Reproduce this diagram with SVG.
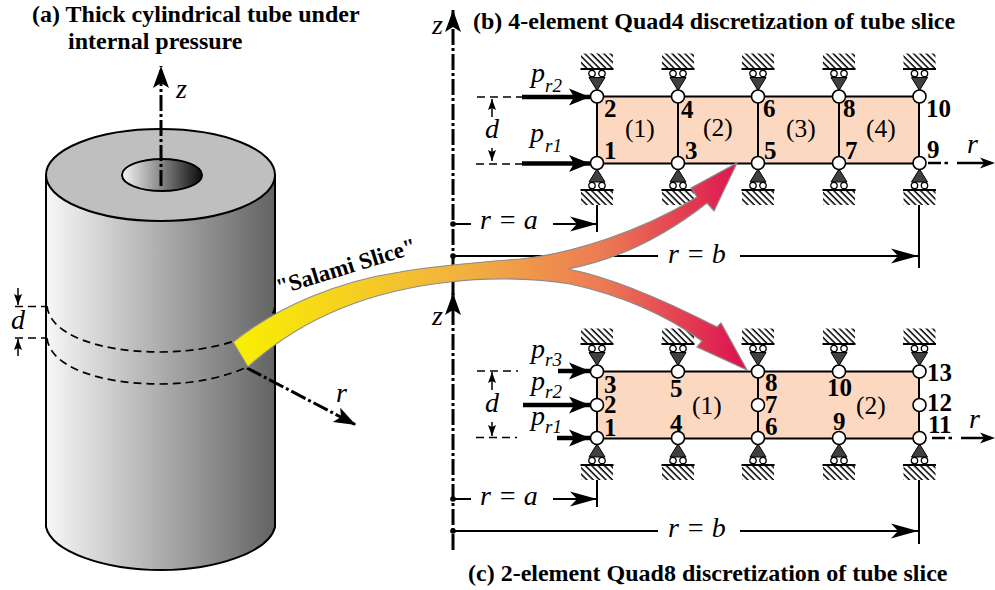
<svg xmlns="http://www.w3.org/2000/svg" width="995" height="590" viewBox="0 0 995 590">
<style>
text{font-family:"Liberation Serif","Times New Roman",serif;fill:#000}
.t{font-weight:bold;font-size:24px}
.n{font-weight:bold;font-size:25px}
.e{font-size:25.500px}
.i{font-style:italic;font-size:28px}
.s{font-style:italic;font-size:19px}
.l{stroke:#000;fill:none;stroke-width:2}
.sl{stroke:#000;fill:none;stroke-width:1.500}
.dd{stroke:#000;fill:none;stroke-width:1.700;stroke-dasharray:8 5}
.da{stroke:#000;fill:none;stroke-width:3;stroke-dasharray:16 3 3 3}
.ra{stroke:#000;fill:none;stroke-width:2.500;stroke-dasharray:13 3.500 3.500 9 30}
.p{stroke:#000;fill:none;stroke-width:4.500}
.nd{fill:#fff;stroke:#000;stroke-width:1.600}
.m{fill:#fcd8c0;stroke:#000;stroke-width:2}
</style>
<defs>
<linearGradient id="cyl" x1="46" x2="275" y1="0" y2="0" gradientUnits="userSpaceOnUse"><stop offset="0" stop-color="#f7f7f7"/><stop offset="1" stop-color="#636363"/></linearGradient>
<linearGradient id="hole" x1="122" x2="202" y1="0" y2="0" gradientUnits="userSpaceOnUse"><stop offset="0" stop-color="#f4f4f4"/><stop offset=".45" stop-color="#909090"/><stop offset="1" stop-color="#0c0c0c"/></linearGradient>
<linearGradient id="rib" x1="233" x2="747" y1="0" y2="0" gradientUnits="userSpaceOnUse"><stop offset="0" stop-color="#f8f000"/><stop offset=".45" stop-color="#f2b040"/><stop offset=".72" stop-color="#ec7a55"/><stop offset="1" stop-color="#dc0f50"/></linearGradient>
<pattern id="h" width="4.500" height="4.500" patternUnits="userSpaceOnUse" patternTransform="rotate(45)"><rect width="4.500" height="4.500" fill="#fff"/><rect width="4.500" height="1.500" fill="#000"/></pattern>
<marker id="a" markerWidth="22" markerHeight="18" refX="21" refY="9" orient="auto" markerUnits="userSpaceOnUse"><path d="M0 .5L21 9L0 17.500L5 9Z" fill="#000"/></marker>
<marker id="e" markerWidth="28" markerHeight="16" refX="27" refY="8" orient="auto" markerUnits="userSpaceOnUse"><path d="M0 .5L27 8L0 15.500L7 8Z" fill="#000"/></marker>
<marker id="r" markerWidth="16" markerHeight="12" refX="15" refY="6" orient="auto" markerUnits="userSpaceOnUse"><path d="M0 .5L15 6L0 11.500L4 6Z" fill="#000"/></marker>
<marker id="b" markerWidth="12" markerHeight="10" refX="11" refY="5" orient="auto" markerUnits="userSpaceOnUse"><path d="M0 1L11 5L0 9L2 5Z" fill="#000"/></marker>
<marker id="c" markerWidth="24" markerHeight="20" refX="22" refY="10" orient="auto" markerUnits="userSpaceOnUse"><path d="M0 2L22 10L0 18L5 10Z" fill="#000"/></marker>
<g id="st"><rect x="-16" y="-43" width="32" height="15" fill="url(#h)"/><path d="M-16.500 -27.500H16.500" class="l"/><circle cx="-5" cy="-23" r="3.200" fill="#fff" stroke="#000" stroke-width="1.300"/><circle cx="5" cy="-23" r="3.200" fill="#fff" stroke="#000" stroke-width="1.300"/><path d="M-8 -19H8L0 -6Z" fill="#404040" stroke="#000"/></g>
<g id="sb"><rect x="-16" y="27" width="32" height="15" fill="url(#h)"/><path d="M-16.500 27H16.500" class="l"/><circle cx="-5" cy="22.500" r="3.200" fill="#fff" stroke="#000" stroke-width="1.300"/><circle cx="5" cy="22.500" r="3.200" fill="#fff" stroke="#000" stroke-width="1.300"/><path d="M-8 19H8L0 6Z" fill="#404040" stroke="#000"/></g>
</defs>

<g id="tube">
<path d="M46 175V527C52 552 105 570 161 570C216 570 269 552 275 527V175Z" fill="url(#cyl)" stroke="#000" stroke-width="2"/>
<ellipse cx="160.500" cy="175" rx="114.500" ry="46" fill="#bfbfbf" stroke="#000" stroke-width="2"/>
<ellipse cx="162" cy="175" rx="40" ry="16" fill="url(#hole)" stroke="#000" stroke-width="2"/>
<path d="M47 306C50 335 100 352 160 352C195 352 225 345 240 339M275 306C274 312 272 316 268 321" class="dd"/>
<path d="M47 338C50 367 100 384 160 384C195 384 225 377 247 367" class="dd"/>
</g>

<g id="connectors">
<path d="M161 186V66" class="da" marker-end="url(#c)"/>
<path d="M15 306.500H46M15 338H46" class="dd"/>
<path d="M18 288V305" class="sl" marker-end="url(#b)"/>
<path d="M18 356V339" class="sl" marker-end="url(#b)"/>
<path d="M247 368L356 425" class="da" marker-end="url(#c)"/>

<path d="M453 295V10" class="da" marker-end="url(#c)"/>
<circle cx="453" cy="224" r="2.800"/><circle cx="453" cy="256" r="2.800"/>
<path d="M453 224H471" class="l"/><path d="M553 224H597" class="l" marker-end="url(#e)"/>
<path d="M453 256H658" class="l"/><path d="M740 256H918" class="l" marker-end="url(#e)"/>
<path d="M597 190V232M919 190V268" class="l"/>
<path d="M477 97H522M476 164H522" class="dd"/>
<path d="M522 97H590" class="p" marker-end="url(#a)"/>
<path d="M522 163.500H590" class="p" marker-end="url(#a)"/>
<path d="M492 117V99" class="sl" marker-end="url(#b)"/><path d="M492 148V161" class="sl" marker-end="url(#b)"/>
<path d="M928 163H995" class="ra" marker-end="url(#r)"/>

<path d="M453 550V293" class="da" marker-end="url(#c)"/>
<circle cx="453" cy="499" r="2.800"/><circle cx="453" cy="531" r="2.800"/>
<path d="M453 499H471" class="l"/><path d="M553 499H597" class="l" marker-end="url(#e)"/>
<path d="M453 531H658" class="l"/><path d="M740 531H918" class="l" marker-end="url(#e)"/>
<path d="M597 465V507M919 465V544" class="l"/>
<path d="M477 371H518M476 437.500H517" class="dd"/>
<path d="M558 371H590" class="p" marker-end="url(#a)"/>
<path d="M523 405H590" class="p" marker-end="url(#a)"/>
<path d="M557 438H590" class="p" marker-end="url(#a)"/>
<path d="M492 390V372" class="sl" marker-end="url(#b)"/><path d="M492 422V436" class="sl" marker-end="url(#b)"/>
<path d="M932 438H995" class="ra" marker-end="url(#r)"/>
</g>

<g id="mesh-b">
<rect x="597" y="96.500" width="322" height="67" class="m"/>
<path d="M678 97V163M758 97V163M839 97V163" class="l"/>
</g>
<g id="mesh-c">
<rect x="597" y="371.500" width="322" height="67" class="m"/>
<path d="M758 372V438" class="l"/>
</g>

<g id="b-nodes">
<g id="b1" transform="translate(597,163)"><use href="#sb"/><circle r="6.500" class="nd"/></g>
<g id="b2" transform="translate(597,96.500)"><use href="#st"/><circle r="6.500" class="nd"/></g>
<g id="b3" transform="translate(678,163)"><use href="#sb"/><circle r="6.500" class="nd"/></g>
<g id="b4" transform="translate(678,96.500)"><use href="#st"/><circle r="6.500" class="nd"/></g>
<g id="b5" transform="translate(758,163)"><use href="#sb"/><circle r="6.500" class="nd"/></g>
<g id="b6" transform="translate(758,96.500)"><use href="#st"/><circle r="6.500" class="nd"/></g>
<g id="b7" transform="translate(839,163)"><use href="#sb"/><circle r="6.500" class="nd"/></g>
<g id="b8" transform="translate(839,96.500)"><use href="#st"/><circle r="6.500" class="nd"/></g>
<g id="b9" transform="translate(919.500,163)"><use href="#sb"/><circle r="6.500" class="nd"/></g>
<g id="b10" transform="translate(919.500,96.500)"><use href="#st"/><circle r="6.500" class="nd"/></g>
</g>
<g id="c-nodes">
<g id="c1" transform="translate(597,438)"><use href="#sb"/><circle r="6.500" class="nd"/></g>
<g id="c2" transform="translate(597,405)"><circle r="6.500" class="nd"/></g>
<g id="c3" transform="translate(597,371.500)"><use href="#st"/><circle r="6.500" class="nd"/></g>
<g id="c4" transform="translate(678,438)"><use href="#sb"/><circle r="6.500" class="nd"/></g>
<g id="c5" transform="translate(678,371.500)"><use href="#st"/><circle r="6.500" class="nd"/></g>
<g id="c6" transform="translate(758,438)"><use href="#sb"/><circle r="6.500" class="nd"/></g>
<g id="c7" transform="translate(758,405)"><circle r="6.500" class="nd"/></g>
<g id="c8" transform="translate(758,371.500)"><use href="#st"/><circle r="6.500" class="nd"/></g>
<g id="c9" transform="translate(839,438)"><use href="#sb"/><circle r="6.500" class="nd"/></g>
<g id="c10" transform="translate(839,371.500)"><use href="#st"/><circle r="6.500" class="nd"/></g>
<g id="c11" transform="translate(919.500,438)"><use href="#sb"/><circle r="6.500" class="nd"/></g>
<g id="c12" transform="translate(919.500,405)"><circle r="6.500" class="nd"/></g>
<g id="c13" transform="translate(919.500,371.500)"><use href="#st"/><circle r="6.500" class="nd"/></g>
</g>

<g id="ribbon">
<path d="M233 342C280 305 340 281 400 272C440 265 480 262 520 259C570 254 640 232 697 197L691 188L737 163L714 211L707 203C670 232 625 258 568 269C610 277 660 298 717 327L721 323L747 370L697 347L702 341C670 318 625 296 570 284C530 277 480 278 450 282C385 289 310 310 248 367Z" fill="url(#rib)" stroke="#8c8c8c" stroke-width="1.200"/>
<text class="t" transform="translate(279,295) rotate(-17)" style="font-size:23px">"Salami Slice"</text>
</g>

<g id="labels">
<text class="t" x="32" y="22">(a) Thick cylindrical tube under</text>
<text class="t" x="68" y="49">internal pressure</text>
<text class="t" x="473" y="29">(b) 4-element Quad4 discretization of tube slice</text>
<text class="t" x="468" y="581">(c) 2-element Quad8 discretization of tube slice</text>
<text class="i" x="176" y="98">z</text><text class="i" x="336" y="402">r</text>
<text class="i" x="11" y="329">d</text>
<text class="i" x="432" y="34">z</text><text class="i" x="432" y="325">z</text>
<text class="i" x="967" y="153">r</text><text class="i" x="969" y="428">r</text>
<text class="i" x="485" y="138">d</text><text class="i" x="485" y="412">d</text>
<text class="i" x="480" y="229">r = a</text><text class="i" x="668" y="263">r = b</text>
<text class="i" x="480" y="505">r = a</text><text class="i" x="668" y="537">r = b</text>
<text class="i" x="531" y="82">p</text><text class="s" x="545" y="92">r2</text>
<text class="i" x="530" y="142">p</text><text class="s" x="545" y="152">r1</text>
<text class="i" x="531" y="358">p</text><text class="s" x="545" y="366">r3</text>
<text class="i" x="531" y="390">p</text><text class="s" x="545" y="398">r2</text>
<text class="i" x="531" y="425">p</text><text class="s" x="545" y="433">r1</text>
<text class="e" x="625" y="137">(1)</text><text class="e" x="703" y="136">(2)</text><text class="e" x="786" y="137">(3)</text><text class="e" x="866" y="137">(4)</text>
<text class="e" x="692" y="414">(1)</text><text class="e" x="856" y="414">(2)</text>
<text class="n" x="604" y="117">2</text><text class="n" x="604" y="159">1</text>
<text class="n" x="681" y="118">4</text><text class="n" x="685" y="159">3</text>
<text class="n" x="763" y="117">6</text><text class="n" x="764" y="159">5</text>
<text class="n" x="843" y="117">8</text><text class="n" x="845" y="159">7</text>
<text class="n" x="926" y="117">10</text><text class="n" x="927" y="158">9</text>
<text class="n" x="604" y="393">3</text><text class="n" x="604" y="413">2</text><text class="n" x="604" y="436">1</text>
<text class="n" x="670" y="397">5</text><text class="n" x="670" y="432">4</text>
<text class="n" x="765" y="391">8</text><text class="n" x="765" y="413">7</text><text class="n" x="765" y="435">6</text>
<text class="n" x="827" y="396">10</text><text class="n" x="833" y="430">9</text>
<text class="n" x="927" y="381">13</text><text class="n" x="927" y="411">12</text><text class="n" x="928" y="433">11</text>
</g>
</svg>
